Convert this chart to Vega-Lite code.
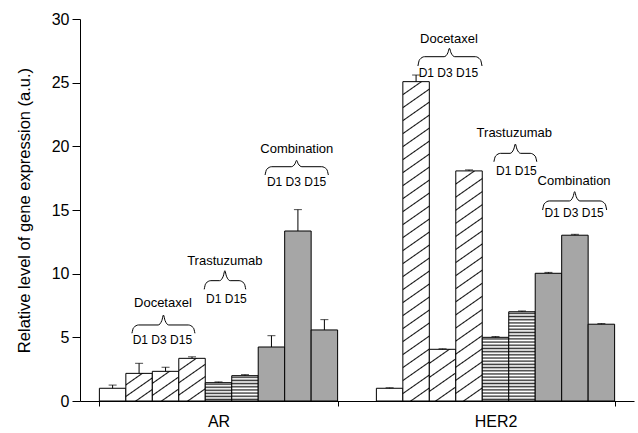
{
  "$schema": "https://vega.github.io/schema/vega-lite/v6.json",
  "width": 554,
  "height": 382,
  "autosize": {"type": "none"},
  "padding": {"left": 80, "top": 19, "right": 4, "bottom": 32},
  "background": "white",
  "config": {
    "view": {"stroke": null},
    "font": "Liberation Sans",
    "axis": {"domainColor": "#000", "tickColor": "#000", "labelColor": "#000", "titleColor": "#000", "labelFont": "Liberation Sans", "titleFont": "Liberation Sans", "grid": false, "titleFontWeight": "normal"}
  },
  "datasets": {
    "bars": [
      {"gene": "AR", "bar": "Control", "treatment": "Control", "value": 1.0, "hi": 1.25},
      {"gene": "AR", "bar": "Docetaxel D1", "treatment": "Docetaxel", "value": 2.17, "hi": 2.96},
      {"gene": "AR", "bar": "Docetaxel D3", "treatment": "Docetaxel", "value": 2.33, "hi": 2.65},
      {"gene": "AR", "bar": "Docetaxel D15", "treatment": "Docetaxel", "value": 3.35, "hi": 3.47},
      {"gene": "AR", "bar": "Trastuzumab D1", "treatment": "Trastuzumab", "value": 1.44, "hi": 1.5},
      {"gene": "AR", "bar": "Trastuzumab D15", "treatment": "Trastuzumab", "value": 1.99, "hi": 2.07},
      {"gene": "AR", "bar": "Combination D1", "treatment": "Combination", "value": 4.24, "hi": 5.13},
      {"gene": "AR", "bar": "Combination D3", "treatment": "Combination", "value": 13.35, "hi": 15.03},
      {"gene": "AR", "bar": "Combination D15", "treatment": "Combination", "value": 5.58, "hi": 6.39},
      {"gene": "HER2", "bar": "Control", "treatment": "Control", "value": 1.0, "hi": 1.04},
      {"gene": "HER2", "bar": "Docetaxel D1", "treatment": "Docetaxel", "value": 25.08, "hi": 25.6},
      {"gene": "HER2", "bar": "Docetaxel D3", "treatment": "Docetaxel", "value": 4.06, "hi": 4.1},
      {"gene": "HER2", "bar": "Docetaxel D15", "treatment": "Docetaxel", "value": 18.07, "hi": 18.15},
      {"gene": "HER2", "bar": "Trastuzumab D1", "treatment": "Trastuzumab", "value": 5.0, "hi": 5.06},
      {"gene": "HER2", "bar": "Trastuzumab D15", "treatment": "Trastuzumab", "value": 7.01, "hi": 7.07},
      {"gene": "HER2", "bar": "Combination D1", "treatment": "Combination", "value": 10.03, "hi": 10.1},
      {"gene": "HER2", "bar": "Combination D3", "treatment": "Combination", "value": 13.02, "hi": 13.09},
      {"gene": "HER2", "bar": "Combination D15", "treatment": "Combination", "value": 6.03, "hi": 6.08}
    ],
    "labels": [
      {"gene": "AR", "u": 2.40, "y": 7.68, "text": "Docetaxel", "kind": "name"},
      {"gene": "AR", "u": 2.38, "y": 4.79, "text": "D1 D3 D15", "kind": "days"},
      {"gene": "AR", "u": 4.74, "y": 11.0, "text": "Trastuzumab", "kind": "name"},
      {"gene": "AR", "u": 4.80, "y": 7.99, "text": "D1 D15", "kind": "days"},
      {"gene": "AR", "u": 7.46, "y": 19.79, "text": "Combination", "kind": "name"},
      {"gene": "AR", "u": 7.45, "y": 17.22, "text": "D1 D3 D15", "kind": "days"},
      {"gene": "HER2", "u": 2.74, "y": 28.41, "text": "Docetaxel", "kind": "name"},
      {"gene": "HER2", "u": 2.72, "y": 25.74, "text": "D1 D3 D15", "kind": "days"},
      {"gene": "HER2", "u": 5.21, "y": 21.07, "text": "Trastuzumab", "kind": "name"},
      {"gene": "HER2", "u": 5.29, "y": 18.09, "text": "D1 D15", "kind": "days"},
      {"gene": "HER2", "u": 7.47, "y": 17.28, "text": "Combination", "kind": "name"},
      {"gene": "HER2", "u": 7.47, "y": 14.74, "text": "D1 D3 D15", "kind": "days"}
    ],
    "braces": [
      {"gene": "AR", "grp": "a1", "u": 1.23, "y": 5.32}, {"gene": "AR", "grp": "a1", "u": 1.29, "y": 5.75}, {"gene": "AR", "grp": "a1", "u": 1.48, "y": 5.97}, {"gene": "AR", "grp": "a1", "u": 2.22, "y": 5.97}, {"gene": "AR", "grp": "a1", "u": 2.36, "y": 6.32}, {"gene": "AR", "grp": "a1", "u": 2.42, "y": 6.75}, {"gene": "AR", "grp": "a1", "u": 2.48, "y": 6.32}, {"gene": "AR", "grp": "a1", "u": 2.62, "y": 5.97}, {"gene": "AR", "grp": "a1", "u": 3.36, "y": 5.97}, {"gene": "AR", "grp": "a1", "u": 3.55, "y": 5.75}, {"gene": "AR", "grp": "a1", "u": 3.61, "y": 5.32},
      {"gene": "AR", "grp": "a2", "u": 3.96, "y": 8.77}, {"gene": "AR", "grp": "a2", "u": 4.02, "y": 9.23}, {"gene": "AR", "grp": "a2", "u": 4.21, "y": 9.45}, {"gene": "AR", "grp": "a2", "u": 4.54, "y": 9.45}, {"gene": "AR", "grp": "a2", "u": 4.68, "y": 9.80}, {"gene": "AR", "grp": "a2", "u": 4.74, "y": 10.23}, {"gene": "AR", "grp": "a2", "u": 4.80, "y": 9.80}, {"gene": "AR", "grp": "a2", "u": 4.94, "y": 9.45}, {"gene": "AR", "grp": "a2", "u": 5.28, "y": 9.45}, {"gene": "AR", "grp": "a2", "u": 5.47, "y": 9.23}, {"gene": "AR", "grp": "a2", "u": 5.53, "y": 8.77},
      {"gene": "AR", "grp": "a3", "u": 6.26, "y": 17.75}, {"gene": "AR", "grp": "a3", "u": 6.32, "y": 18.19}, {"gene": "AR", "grp": "a3", "u": 6.51, "y": 18.4}, {"gene": "AR", "grp": "a3", "u": 7.25, "y": 18.4}, {"gene": "AR", "grp": "a3", "u": 7.39, "y": 18.63}, {"gene": "AR", "grp": "a3", "u": 7.45, "y": 18.9}, {"gene": "AR", "grp": "a3", "u": 7.51, "y": 18.63}, {"gene": "AR", "grp": "a3", "u": 7.65, "y": 18.4}, {"gene": "AR", "grp": "a3", "u": 8.40, "y": 18.4}, {"gene": "AR", "grp": "a3", "u": 8.59, "y": 18.19}, {"gene": "AR", "grp": "a3", "u": 8.65, "y": 17.75},
      {"gene": "HER2", "grp": "h1", "u": 1.57, "y": 26.31}, {"gene": "HER2", "grp": "h1", "u": 1.63, "y": 26.80}, {"gene": "HER2", "grp": "h1", "u": 1.82, "y": 27.04}, {"gene": "HER2", "grp": "h1", "u": 2.56, "y": 27.04}, {"gene": "HER2", "grp": "h1", "u": 2.70, "y": 27.34}, {"gene": "HER2", "grp": "h1", "u": 2.76, "y": 27.7}, {"gene": "HER2", "grp": "h1", "u": 2.82, "y": 27.34}, {"gene": "HER2", "grp": "h1", "u": 2.96, "y": 27.04}, {"gene": "HER2", "grp": "h1", "u": 3.74, "y": 27.04}, {"gene": "HER2", "grp": "h1", "u": 3.93, "y": 26.80}, {"gene": "HER2", "grp": "h1", "u": 3.99, "y": 26.31},
      {"gene": "HER2", "grp": "h2", "u": 4.44, "y": 18.79}, {"gene": "HER2", "grp": "h2", "u": 4.50, "y": 19.23}, {"gene": "HER2", "grp": "h2", "u": 4.69, "y": 19.45}, {"gene": "HER2", "grp": "h2", "u": 5.05, "y": 19.45}, {"gene": "HER2", "grp": "h2", "u": 5.19, "y": 19.78}, {"gene": "HER2", "grp": "h2", "u": 5.25, "y": 20.18}, {"gene": "HER2", "grp": "h2", "u": 5.31, "y": 19.78}, {"gene": "HER2", "grp": "h2", "u": 5.45, "y": 19.45}, {"gene": "HER2", "grp": "h2", "u": 5.81, "y": 19.45}, {"gene": "HER2", "grp": "h2", "u": 6.00, "y": 19.23}, {"gene": "HER2", "grp": "h2", "u": 6.06, "y": 18.79},
      {"gene": "HER2", "grp": "h3", "u": 6.28, "y": 15.0}, {"gene": "HER2", "grp": "h3", "u": 6.34, "y": 15.48}, {"gene": "HER2", "grp": "h3", "u": 6.53, "y": 15.71}, {"gene": "HER2", "grp": "h3", "u": 7.29, "y": 15.71}, {"gene": "HER2", "grp": "h3", "u": 7.43, "y": 16.04}, {"gene": "HER2", "grp": "h3", "u": 7.49, "y": 16.44}, {"gene": "HER2", "grp": "h3", "u": 7.55, "y": 16.04}, {"gene": "HER2", "grp": "h3", "u": 7.69, "y": 15.71}, {"gene": "HER2", "grp": "h3", "u": 8.45, "y": 15.71}, {"gene": "HER2", "grp": "h3", "u": 8.64, "y": 15.48}, {"gene": "HER2", "grp": "h3", "u": 8.70, "y": 15.0}
    ]
  },
  "layer": [
    {
      "data": {"name": "bars"},
      "encoding": {
        "x": {"field": "gene", "type": "nominal", "sort": ["AR", "HER2"], "title": null, "scale": {"paddingInner": 0.14, "paddingOuter": 0.07}, "axis": {"labelFontSize": 16, "labelAngle": 0, "tickBand": "extent", "tickSize": 5, "labelPadding": 7}},
        "xOffset": {"field": "bar", "type": "nominal", "sort": ["Control", "Docetaxel D1", "Docetaxel D3", "Docetaxel D15", "Trastuzumab D1", "Trastuzumab D15", "Combination D1", "Combination D3", "Combination D15"], "scale": {"paddingInner": 0, "paddingOuter": 0}}
      },
      "layer": [
        {
          "mark": {"type": "bar", "stroke": "#000", "strokeWidth": 1},
          "encoding": {
            "y": {"field": "value", "type": "quantitative", "title": "Relative level of gene expression (a.u.)", "scale": {"domain": [0, 30], "nice": false}, "axis": {"titleFontSize": 16.5, "titlePadding": 19, "values": [0, 5, 10, 15, 20, 25, 30], "tickSize": 8, "labelPadding": 3, "labelFontSize": 16}},
            "fill": {
              "condition": [
                {"test": "datum.gene==='AR'&&datum.bar==='Docetaxel D1'", "value": {"gradient": "linear", "x1": 0, "y1": 0, "x2": 0.7729, "y2": 1.1524, "stops": [{"offset": 0.2218, "color": "#fff"}, {"offset": 0.25, "color": "#111"}, {"offset": 0.2782, "color": "#fff"}, {"offset": 0.4718, "color": "#fff"}, {"offset": 0.5, "color": "#111"}, {"offset": 0.5282, "color": "#fff"}, {"offset": 0.7218, "color": "#fff"}, {"offset": 0.75, "color": "#111"}, {"offset": 0.7782, "color": "#fff"}]}},
                {"test": "datum.gene==='AR'&&datum.bar==='Docetaxel D3'", "value": {"gradient": "linear", "x1": 0, "y1": 0, "x2": 0.7299, "y2": 1.1687, "stops": [{"offset": 0.223, "color": "#fff"}, {"offset": 0.25, "color": "#111"}, {"offset": 0.277, "color": "#fff"}, {"offset": 0.473, "color": "#fff"}, {"offset": 0.5, "color": "#111"}, {"offset": 0.527, "color": "#fff"}, {"offset": 0.723, "color": "#fff"}, {"offset": 0.75, "color": "#111"}, {"offset": 0.777, "color": "#fff"}]}},
                {"test": "datum.gene==='AR'&&datum.bar==='Docetaxel D15'", "value": {"gradient": "linear", "x1": 0, "y1": 0, "x2": 0.5242, "y2": 1.2068, "stops": [{"offset": 0.1788, "color": "#fff"}, {"offset": 0.2, "color": "#111"}, {"offset": 0.2212, "color": "#fff"}, {"offset": 0.3788, "color": "#fff"}, {"offset": 0.4, "color": "#111"}, {"offset": 0.4212, "color": "#fff"}, {"offset": 0.5788, "color": "#fff"}, {"offset": 0.6, "color": "#111"}, {"offset": 0.6212, "color": "#fff"}, {"offset": 0.7788, "color": "#fff"}, {"offset": 0.8, "color": "#111"}, {"offset": 0.8212, "color": "#fff"}]}},
                {"test": "datum.gene==='HER2'&&datum.bar==='Docetaxel D1'", "value": {"gradient": "linear", "x1": 0, "y1": 0, "x2": 0.06119, "y2": 1.0545, "stops": [
                  {"offset": 0.0347, "color": "#fff"}, {"offset": 0.0385, "color": "#111"}, {"offset": 0.0423, "color": "#fff"},
                  {"offset": 0.0731, "color": "#fff"}, {"offset": 0.0769, "color": "#111"}, {"offset": 0.0807, "color": "#fff"},
                  {"offset": 0.1116, "color": "#fff"}, {"offset": 0.1154, "color": "#111"}, {"offset": 0.1192, "color": "#fff"},
                  {"offset": 0.15, "color": "#fff"}, {"offset": 0.1538, "color": "#111"}, {"offset": 0.1576, "color": "#fff"},
                  {"offset": 0.1885, "color": "#fff"}, {"offset": 0.1923, "color": "#111"}, {"offset": 0.1961, "color": "#fff"},
                  {"offset": 0.227, "color": "#fff"}, {"offset": 0.2308, "color": "#111"}, {"offset": 0.2346, "color": "#fff"},
                  {"offset": 0.2654, "color": "#fff"}, {"offset": 0.2692, "color": "#111"}, {"offset": 0.273, "color": "#fff"},
                  {"offset": 0.3039, "color": "#fff"}, {"offset": 0.3077, "color": "#111"}, {"offset": 0.3115, "color": "#fff"},
                  {"offset": 0.3424, "color": "#fff"}, {"offset": 0.3462, "color": "#111"}, {"offset": 0.35, "color": "#fff"},
                  {"offset": 0.3808, "color": "#fff"}, {"offset": 0.3846, "color": "#111"}, {"offset": 0.3884, "color": "#fff"},
                  {"offset": 0.4193, "color": "#fff"}, {"offset": 0.4231, "color": "#111"}, {"offset": 0.4269, "color": "#fff"},
                  {"offset": 0.4577, "color": "#fff"}, {"offset": 0.4615, "color": "#111"}, {"offset": 0.4653, "color": "#fff"},
                  {"offset": 0.4962, "color": "#fff"}, {"offset": 0.5, "color": "#111"}, {"offset": 0.5038, "color": "#fff"},
                  {"offset": 0.5347, "color": "#fff"}, {"offset": 0.5385, "color": "#111"}, {"offset": 0.5423, "color": "#fff"},
                  {"offset": 0.5731, "color": "#fff"}, {"offset": 0.5769, "color": "#111"}, {"offset": 0.5807, "color": "#fff"},
                  {"offset": 0.6116, "color": "#fff"}, {"offset": 0.6154, "color": "#111"}, {"offset": 0.6192, "color": "#fff"},
                  {"offset": 0.65, "color": "#fff"}, {"offset": 0.6538, "color": "#111"}, {"offset": 0.6576, "color": "#fff"},
                  {"offset": 0.6885, "color": "#fff"}, {"offset": 0.6923, "color": "#111"}, {"offset": 0.6961, "color": "#fff"},
                  {"offset": 0.727, "color": "#fff"}, {"offset": 0.7308, "color": "#111"}, {"offset": 0.7346, "color": "#fff"},
                  {"offset": 0.7654, "color": "#fff"}, {"offset": 0.7692, "color": "#111"}, {"offset": 0.773, "color": "#fff"},
                  {"offset": 0.8039, "color": "#fff"}, {"offset": 0.8077, "color": "#111"}, {"offset": 0.8115, "color": "#fff"},
                  {"offset": 0.8424, "color": "#fff"}, {"offset": 0.8462, "color": "#111"}, {"offset": 0.85, "color": "#fff"},
                  {"offset": 0.8808, "color": "#fff"}, {"offset": 0.8846, "color": "#111"}, {"offset": 0.8884, "color": "#fff"},
                  {"offset": 0.9193, "color": "#fff"}, {"offset": 0.9231, "color": "#111"}, {"offset": 0.9269, "color": "#fff"},
                  {"offset": 0.9577, "color": "#fff"}, {"offset": 0.9615, "color": "#111"}, {"offset": 0.9653, "color": "#fff"}]}},
                {"test": "datum.gene==='HER2'&&datum.bar==='Docetaxel D3'", "value": {"gradient": "linear", "x1": 0, "y1": 0, "x2": 0.4314, "y2": 1.2036, "stops": [{"offset": 0.1815, "color": "#fff"}, {"offset": 0.2, "color": "#111"}, {"offset": 0.2185, "color": "#fff"}, {"offset": 0.3815, "color": "#fff"}, {"offset": 0.4, "color": "#111"}, {"offset": 0.4185, "color": "#fff"}, {"offset": 0.5815, "color": "#fff"}, {"offset": 0.6, "color": "#111"}, {"offset": 0.6185, "color": "#fff"}, {"offset": 0.7815, "color": "#fff"}, {"offset": 0.8, "color": "#111"}, {"offset": 0.8185, "color": "#fff"}]}},
                {"test": "datum.gene==='HER2'&&datum.bar==='Docetaxel D15'", "value": {"gradient": "linear", "x1": 0, "y1": 0, "x2": 0.08646, "y2": 1.0736, "stops": [
                  {"offset": 0.0474, "color": "#fff"}, {"offset": 0.0526, "color": "#111"}, {"offset": 0.0578, "color": "#fff"},
                  {"offset": 0.1001, "color": "#fff"}, {"offset": 0.1053, "color": "#111"}, {"offset": 0.1105, "color": "#fff"},
                  {"offset": 0.1527, "color": "#fff"}, {"offset": 0.1579, "color": "#111"}, {"offset": 0.1631, "color": "#fff"},
                  {"offset": 0.2053, "color": "#fff"}, {"offset": 0.2105, "color": "#111"}, {"offset": 0.2157, "color": "#fff"},
                  {"offset": 0.258, "color": "#fff"}, {"offset": 0.2632, "color": "#111"}, {"offset": 0.2684, "color": "#fff"},
                  {"offset": 0.3106, "color": "#fff"}, {"offset": 0.3158, "color": "#111"}, {"offset": 0.321, "color": "#fff"},
                  {"offset": 0.3632, "color": "#fff"}, {"offset": 0.3684, "color": "#111"}, {"offset": 0.3736, "color": "#fff"},
                  {"offset": 0.4159, "color": "#fff"}, {"offset": 0.4211, "color": "#111"}, {"offset": 0.4263, "color": "#fff"},
                  {"offset": 0.4685, "color": "#fff"}, {"offset": 0.4737, "color": "#111"}, {"offset": 0.4789, "color": "#fff"},
                  {"offset": 0.5211, "color": "#fff"}, {"offset": 0.5263, "color": "#111"}, {"offset": 0.5315, "color": "#fff"},
                  {"offset": 0.5737, "color": "#fff"}, {"offset": 0.5789, "color": "#111"}, {"offset": 0.5841, "color": "#fff"},
                  {"offset": 0.6264, "color": "#fff"}, {"offset": 0.6316, "color": "#111"}, {"offset": 0.6368, "color": "#fff"},
                  {"offset": 0.679, "color": "#fff"}, {"offset": 0.6842, "color": "#111"}, {"offset": 0.6894, "color": "#fff"},
                  {"offset": 0.7316, "color": "#fff"}, {"offset": 0.7368, "color": "#111"}, {"offset": 0.742, "color": "#fff"},
                  {"offset": 0.7843, "color": "#fff"}, {"offset": 0.7895, "color": "#111"}, {"offset": 0.7947, "color": "#fff"},
                  {"offset": 0.8369, "color": "#fff"}, {"offset": 0.8421, "color": "#111"}, {"offset": 0.8473, "color": "#fff"},
                  {"offset": 0.8895, "color": "#fff"}, {"offset": 0.8947, "color": "#111"}, {"offset": 0.8999, "color": "#fff"},
                  {"offset": 0.9422, "color": "#fff"}, {"offset": 0.9474, "color": "#111"}, {"offset": 0.9526, "color": "#fff"}]}},
                {"test": "datum.gene==='AR'&&datum.bar==='Trastuzumab D1'", "value": {"gradient": "linear", "x1": 0, "y1": 0, "x2": 0, "y2": 1, "stops": [
                  {"offset": 0.0073, "color": "#fff"}, {"offset": 0.0833, "color": "#333"}, {"offset": 0.1593, "color": "#fff"},
                  {"offset": 0.174, "color": "#fff"}, {"offset": 0.25, "color": "#333"}, {"offset": 0.326, "color": "#fff"},
                  {"offset": 0.3407, "color": "#fff"}, {"offset": 0.4167, "color": "#333"}, {"offset": 0.4927, "color": "#fff"},
                  {"offset": 0.5073, "color": "#fff"}, {"offset": 0.5833, "color": "#333"}, {"offset": 0.6593, "color": "#fff"},
                  {"offset": 0.674, "color": "#fff"}, {"offset": 0.75, "color": "#333"}, {"offset": 0.826, "color": "#fff"},
                  {"offset": 0.8407, "color": "#fff"}, {"offset": 0.9167, "color": "#333"}, {"offset": 0.9927, "color": "#fff"}]}},
                {"test": "datum.gene==='AR'&&datum.bar==='Trastuzumab D15'", "value": {"gradient": "linear", "x1": 0, "y1": 0, "x2": 0, "y2": 1, "stops": [
                  {"offset": 0.0072, "color": "#fff"}, {"offset": 0.0625, "color": "#333"}, {"offset": 0.1178, "color": "#fff"},
                  {"offset": 0.1322, "color": "#fff"}, {"offset": 0.1875, "color": "#333"}, {"offset": 0.2428, "color": "#fff"},
                  {"offset": 0.2572, "color": "#fff"}, {"offset": 0.3125, "color": "#333"}, {"offset": 0.3678, "color": "#fff"},
                  {"offset": 0.3822, "color": "#fff"}, {"offset": 0.4375, "color": "#333"}, {"offset": 0.4928, "color": "#fff"},
                  {"offset": 0.5072, "color": "#fff"}, {"offset": 0.5625, "color": "#333"}, {"offset": 0.6178, "color": "#fff"},
                  {"offset": 0.6322, "color": "#fff"}, {"offset": 0.6875, "color": "#333"}, {"offset": 0.7428, "color": "#fff"},
                  {"offset": 0.7572, "color": "#fff"}, {"offset": 0.8125, "color": "#333"}, {"offset": 0.8678, "color": "#fff"},
                  {"offset": 0.8822, "color": "#fff"}, {"offset": 0.9375, "color": "#333"}, {"offset": 0.9928, "color": "#fff"}]}},
                {"test": "datum.gene==='HER2'&&datum.bar==='Trastuzumab D1'", "value": {"gradient": "linear", "x1": 0, "y1": 0, "x2": 0, "y2": 1, "stops": [
                  {"offset": 0.003, "color": "#fff"}, {"offset": 0.025, "color": "#333"}, {"offset": 0.047, "color": "#fff"},
                  {"offset": 0.053, "color": "#fff"}, {"offset": 0.075, "color": "#333"}, {"offset": 0.097, "color": "#fff"},
                  {"offset": 0.103, "color": "#fff"}, {"offset": 0.125, "color": "#333"}, {"offset": 0.147, "color": "#fff"},
                  {"offset": 0.153, "color": "#fff"}, {"offset": 0.175, "color": "#333"}, {"offset": 0.197, "color": "#fff"},
                  {"offset": 0.203, "color": "#fff"}, {"offset": 0.225, "color": "#333"}, {"offset": 0.247, "color": "#fff"},
                  {"offset": 0.253, "color": "#fff"}, {"offset": 0.275, "color": "#333"}, {"offset": 0.297, "color": "#fff"},
                  {"offset": 0.303, "color": "#fff"}, {"offset": 0.325, "color": "#333"}, {"offset": 0.347, "color": "#fff"},
                  {"offset": 0.353, "color": "#fff"}, {"offset": 0.375, "color": "#333"}, {"offset": 0.397, "color": "#fff"},
                  {"offset": 0.403, "color": "#fff"}, {"offset": 0.425, "color": "#333"}, {"offset": 0.447, "color": "#fff"},
                  {"offset": 0.453, "color": "#fff"}, {"offset": 0.475, "color": "#333"}, {"offset": 0.497, "color": "#fff"},
                  {"offset": 0.503, "color": "#fff"}, {"offset": 0.525, "color": "#333"}, {"offset": 0.547, "color": "#fff"},
                  {"offset": 0.553, "color": "#fff"}, {"offset": 0.575, "color": "#333"}, {"offset": 0.597, "color": "#fff"},
                  {"offset": 0.603, "color": "#fff"}, {"offset": 0.625, "color": "#333"}, {"offset": 0.647, "color": "#fff"},
                  {"offset": 0.653, "color": "#fff"}, {"offset": 0.675, "color": "#333"}, {"offset": 0.697, "color": "#fff"},
                  {"offset": 0.703, "color": "#fff"}, {"offset": 0.725, "color": "#333"}, {"offset": 0.747, "color": "#fff"},
                  {"offset": 0.753, "color": "#fff"}, {"offset": 0.775, "color": "#333"}, {"offset": 0.797, "color": "#fff"},
                  {"offset": 0.803, "color": "#fff"}, {"offset": 0.825, "color": "#333"}, {"offset": 0.847, "color": "#fff"},
                  {"offset": 0.853, "color": "#fff"}, {"offset": 0.875, "color": "#333"}, {"offset": 0.897, "color": "#fff"},
                  {"offset": 0.903, "color": "#fff"}, {"offset": 0.925, "color": "#333"}, {"offset": 0.947, "color": "#fff"},
                  {"offset": 0.953, "color": "#fff"}, {"offset": 0.975, "color": "#333"}, {"offset": 0.997, "color": "#fff"}]}},
                {"test": "datum.gene==='HER2'&&datum.bar==='Trastuzumab D15'", "value": {"gradient": "linear", "x1": 0, "y1": 0, "x2": 0, "y2": 1, "stops": [
                  {"offset": 0.0022, "color": "#fff"}, {"offset": 0.0179, "color": "#333"}, {"offset": 0.0336, "color": "#fff"},
                  {"offset": 0.0379, "color": "#fff"}, {"offset": 0.0536, "color": "#333"}, {"offset": 0.0693, "color": "#fff"},
                  {"offset": 0.0736, "color": "#fff"}, {"offset": 0.0893, "color": "#333"}, {"offset": 0.105, "color": "#fff"},
                  {"offset": 0.1093, "color": "#fff"}, {"offset": 0.125, "color": "#333"}, {"offset": 0.1407, "color": "#fff"},
                  {"offset": 0.145, "color": "#fff"}, {"offset": 0.1607, "color": "#333"}, {"offset": 0.1764, "color": "#fff"},
                  {"offset": 0.1807, "color": "#fff"}, {"offset": 0.1964, "color": "#333"}, {"offset": 0.2121, "color": "#fff"},
                  {"offset": 0.2164, "color": "#fff"}, {"offset": 0.2321, "color": "#333"}, {"offset": 0.2478, "color": "#fff"},
                  {"offset": 0.2522, "color": "#fff"}, {"offset": 0.2679, "color": "#333"}, {"offset": 0.2836, "color": "#fff"},
                  {"offset": 0.2879, "color": "#fff"}, {"offset": 0.3036, "color": "#333"}, {"offset": 0.3193, "color": "#fff"},
                  {"offset": 0.3236, "color": "#fff"}, {"offset": 0.3393, "color": "#333"}, {"offset": 0.355, "color": "#fff"},
                  {"offset": 0.3593, "color": "#fff"}, {"offset": 0.375, "color": "#333"}, {"offset": 0.3907, "color": "#fff"},
                  {"offset": 0.395, "color": "#fff"}, {"offset": 0.4107, "color": "#333"}, {"offset": 0.4264, "color": "#fff"},
                  {"offset": 0.4307, "color": "#fff"}, {"offset": 0.4464, "color": "#333"}, {"offset": 0.4621, "color": "#fff"},
                  {"offset": 0.4664, "color": "#fff"}, {"offset": 0.4821, "color": "#333"}, {"offset": 0.4978, "color": "#fff"},
                  {"offset": 0.5022, "color": "#fff"}, {"offset": 0.5179, "color": "#333"}, {"offset": 0.5336, "color": "#fff"},
                  {"offset": 0.5379, "color": "#fff"}, {"offset": 0.5536, "color": "#333"}, {"offset": 0.5693, "color": "#fff"},
                  {"offset": 0.5736, "color": "#fff"}, {"offset": 0.5893, "color": "#333"}, {"offset": 0.605, "color": "#fff"},
                  {"offset": 0.6093, "color": "#fff"}, {"offset": 0.625, "color": "#333"}, {"offset": 0.6407, "color": "#fff"},
                  {"offset": 0.645, "color": "#fff"}, {"offset": 0.6607, "color": "#333"}, {"offset": 0.6764, "color": "#fff"},
                  {"offset": 0.6807, "color": "#fff"}, {"offset": 0.6964, "color": "#333"}, {"offset": 0.7121, "color": "#fff"},
                  {"offset": 0.7164, "color": "#fff"}, {"offset": 0.7321, "color": "#333"}, {"offset": 0.7478, "color": "#fff"},
                  {"offset": 0.7522, "color": "#fff"}, {"offset": 0.7679, "color": "#333"}, {"offset": 0.7836, "color": "#fff"},
                  {"offset": 0.7879, "color": "#fff"}, {"offset": 0.8036, "color": "#333"}, {"offset": 0.8193, "color": "#fff"},
                  {"offset": 0.8236, "color": "#fff"}, {"offset": 0.8393, "color": "#333"}, {"offset": 0.855, "color": "#fff"},
                  {"offset": 0.8593, "color": "#fff"}, {"offset": 0.875, "color": "#333"}, {"offset": 0.8907, "color": "#fff"},
                  {"offset": 0.895, "color": "#fff"}, {"offset": 0.9107, "color": "#333"}, {"offset": 0.9264, "color": "#fff"},
                  {"offset": 0.9307, "color": "#fff"}, {"offset": 0.9464, "color": "#333"}, {"offset": 0.9621, "color": "#fff"},
                  {"offset": 0.9664, "color": "#fff"}, {"offset": 0.9821, "color": "#333"}, {"offset": 0.9978, "color": "#fff"}]}},
                {"test": "datum.treatment==='Combination'", "value": "#a6a6a6"}
              ],
              "value": "#ffffff"
            }
          }
        },
        {
          "mark": {"type": "rule", "color": "#000", "strokeWidth": 1},
          "encoding": {"y": {"field": "value", "type": "quantitative", "title": "Relative level of gene expression (a.u.)"}, "y2": {"field": "hi"}}
        },
        {
          "mark": {"type": "tick", "orient": "horizontal", "color": "#000", "size": 8, "thickness": 1},
          "encoding": {"y": {"field": "hi", "type": "quantitative", "title": "Relative level of gene expression (a.u.)"}}
        }
      ]
    },
    {
      "data": {"name": "braces"},
      "mark": {"type": "line", "color": "#000", "strokeWidth": 1, "interpolate": "monotone"},
      "encoding": {
        "x": {"field": "gene", "type": "nominal", "sort": ["AR", "HER2"], "title": null},
        "xOffset": {"field": "u", "type": "quantitative", "scale": {"domain": [0, 9]}},
        "y": {"field": "y", "type": "quantitative", "title": "Relative level of gene expression (a.u.)"},
        "detail": {"field": "grp"},
        "order": {"field": "u", "type": "quantitative"}
      }
    },
    {
      "data": {"name": "labels"},
      "mark": {"type": "text", "align": "center", "baseline": "middle", "font": "Liberation Sans", "color": "#000"},
      "encoding": {
        "x": {"field": "gene", "type": "nominal", "sort": ["AR", "HER2"], "title": null},
        "xOffset": {"field": "u", "type": "quantitative", "scale": {"domain": [0, 9]}},
        "y": {"field": "y", "type": "quantitative", "title": "Relative level of gene expression (a.u.)"},
        "text": {"field": "text"},
        "size": {"condition": {"test": "datum.kind==='days'", "value": 12}, "value": 13}
      }
    }
  ],
  "resolve": {"scale": {"xOffset": "independent"}}
}
